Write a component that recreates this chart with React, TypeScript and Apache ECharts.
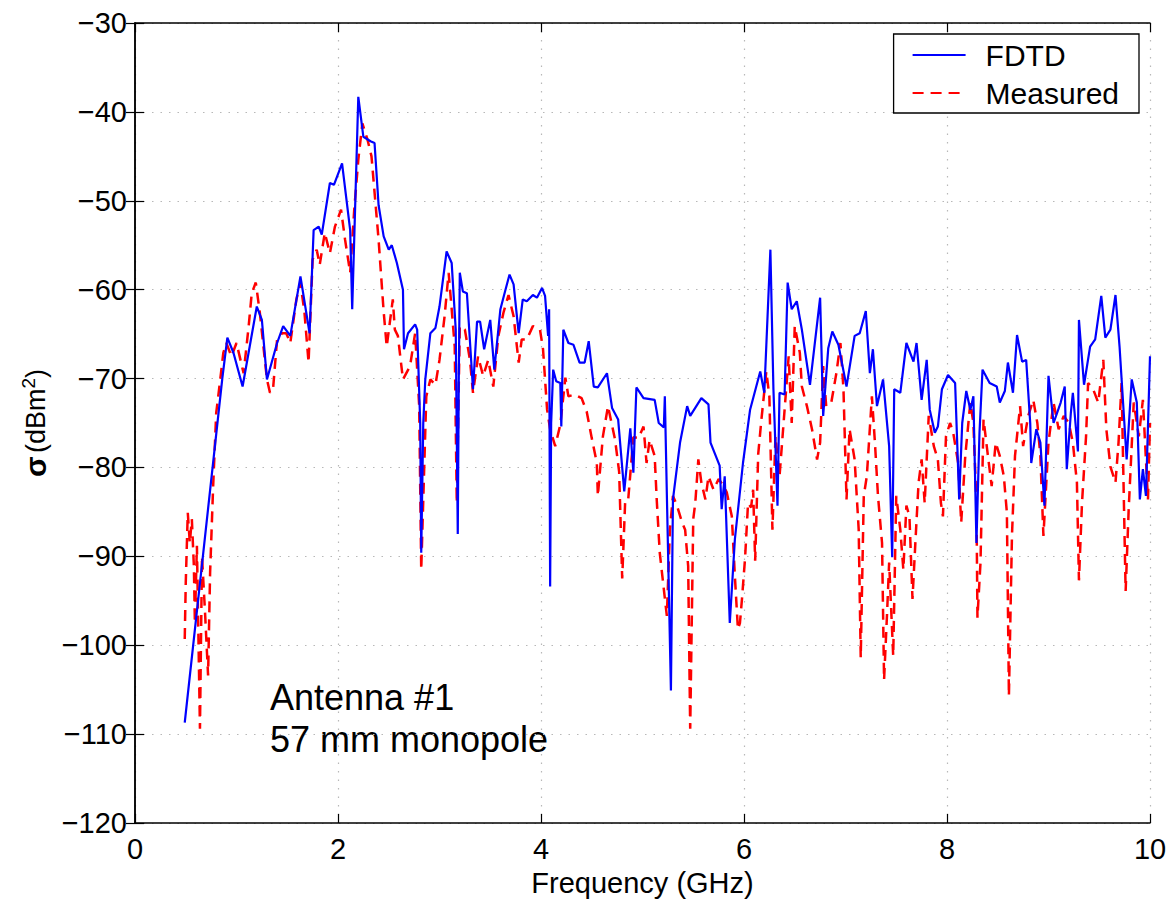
import React, { useEffect, useRef } from "react";
import * as echarts from "echarts";

// Frequency (GHz), sigma (dBm^2)
const fdtdPoints: [number, number][] = [
  [0.49, -108.7], [0.86, -70.0], [0.91, -65.4], [0.97, -67.1], [1.06, -70.9], [1.13, -66.4],
  [1.2, -61.9], [1.25, -63.4], [1.3, -70.1], [1.4, -66.0], [1.46, -64.1], [1.53, -65.2],
  [1.63, -58.5], [1.72, -64.9], [1.76, -53.3], [1.81, -52.9], [1.84, -53.8], [1.92, -48.0],
  [1.96, -48.2], [2.04, -45.8], [2.12, -53.3], [2.14, -62.2], [2.2, -38.3], [2.25, -42.8],
  [2.32, -43.3], [2.36, -43.5], [2.4, -50.5], [2.45, -54.0], [2.5, -55.5], [2.53, -55.0],
  [2.58, -57.0], [2.64, -60.0], [2.65, -66.7], [2.69, -64.9], [2.76, -63.9], [2.78, -64.5],
  [2.81, -75.0], [2.82, -89.6], [2.84, -75.0], [2.86, -70.1], [2.91, -64.9], [2.96, -64.3],
  [3.0, -61.9], [3.07, -55.7], [3.12, -57.0], [3.16, -64.5], [3.18, -87.5], [3.19, -70.0],
  [3.2, -58.1], [3.23, -60.2], [3.27, -60.4], [3.33, -71.2], [3.37, -63.6], [3.4, -63.6],
  [3.44, -66.7], [3.5, -63.4], [3.54, -69.0], [3.6, -62.2], [3.65, -60.0], [3.69, -58.3],
  [3.73, -59.4], [3.78, -64.9], [3.82, -61.1], [3.86, -61.3], [3.92, -60.6], [3.96, -60.9],
  [4.01, -59.8], [4.04, -60.7], [4.07, -65.2], [4.08, -62.2], [4.09, -93.4], [4.1, -75.0],
  [4.12, -69.0], [4.15, -70.3], [4.19, -70.5], [4.2, -75.4], [4.22, -64.5], [4.27, -66.0],
  [4.32, -66.2], [4.38, -68.2], [4.43, -68.2], [4.47, -65.8], [4.52, -70.9], [4.56, -71.0],
  [4.65, -69.4], [4.7, -73.3], [4.76, -74.6], [4.82, -82.7], [4.88, -75.6], [4.91, -80.6],
  [4.94, -71.0], [5.01, -72.2], [5.12, -72.4], [5.16, -75.0], [5.21, -75.5], [5.22, -72.0],
  [5.28, -105.1], [5.3, -83.6], [5.37, -77.2], [5.44, -73.1], [5.47, -74.2], [5.58, -72.2],
  [5.65, -72.9], [5.67, -77.2], [5.76, -79.8], [5.78, -84.7], [5.81, -81.0], [5.86, -97.5],
  [5.91, -88.1], [5.99, -79.5], [6.06, -73.5], [6.16, -69.2], [6.2, -71.6], [6.26, -55.5],
  [6.29, -71.2], [6.33, -84.3], [6.35, -71.6], [6.4, -71.8], [6.43, -59.2], [6.47, -62.2],
  [6.52, -61.3], [6.57, -64.5], [6.65, -70.7], [6.75, -60.9], [6.78, -74.2], [6.83, -66.6],
  [6.87, -64.7], [6.93, -66.2], [7.01, -70.9], [7.09, -65.2], [7.14, -64.9], [7.2, -62.4],
  [7.24, -69.4], [7.27, -66.7], [7.31, -73.1], [7.37, -70.1], [7.43, -77.6], [7.46, -90.1],
  [7.48, -71.2], [7.54, -71.6], [7.6, -66.0], [7.67, -68.1], [7.7, -66.0], [7.75, -72.4],
  [7.8, -67.9], [7.83, -73.5], [7.88, -76.1], [7.91, -75.4], [7.95, -71.2], [8.01, -69.6],
  [8.08, -70.5], [8.12, -83.6], [8.15, -75.0], [8.19, -71.4], [8.23, -73.5], [8.26, -72.0],
  [8.29, -88.5], [8.32, -76.1], [8.35, -69.0], [8.42, -70.5], [8.49, -70.9], [8.52, -72.7],
  [8.57, -71.4], [8.6, -68.2], [8.65, -71.6], [8.69, -65.1], [8.74, -68.1], [8.78, -67.9],
  [8.82, -75.0], [8.83, -79.5], [8.88, -75.7], [8.92, -77.2], [8.96, -84.3], [9.0, -69.7],
  [9.05, -75.0], [9.12, -72.7], [9.16, -70.9], [9.18, -80.2], [9.22, -73.9], [9.24, -71.6],
  [9.29, -78.2], [9.3, -63.4], [9.35, -70.7], [9.41, -66.4], [9.46, -65.6], [9.52, -60.7],
  [9.56, -65.4], [9.61, -64.5], [9.66, -60.6], [9.7, -66.4], [9.77, -79.1], [9.82, -70.1],
  [9.87, -72.7], [9.9, -83.6], [9.93, -80.2], [9.96, -83.2], [10.0, -67.5],
];

const measuredPoints: [number, number][] = [
  [0.49, -99.3], [0.5, -93.0], [0.52, -85.1], [0.54, -88.5], [0.56, -85.8], [0.58, -91.1],
  [0.59, -97.5], [0.61, -88.8], [0.64, -109.4], [0.66, -90.0], [0.69, -96.3], [0.72, -103.4],
  [0.74, -91.8], [0.77, -82.1], [0.8, -73.9], [0.84, -70.1], [0.87, -67.1], [0.9, -66.0],
  [0.95, -67.5], [1.0, -66.0], [1.07, -69.4], [1.12, -64.1], [1.15, -60.4], [1.19, -59.2],
  [1.23, -62.6], [1.3, -70.1], [1.33, -71.6], [1.36, -71.2], [1.4, -65.6], [1.45, -64.9],
  [1.49, -64.9], [1.53, -66.0], [1.59, -61.1], [1.63, -59.2], [1.67, -62.6], [1.71, -68.2],
  [1.75, -56.6], [1.79, -55.5], [1.82, -57.2], [1.87, -53.6], [1.92, -55.9], [1.97, -52.9],
  [2.03, -51.0], [2.07, -54.4], [2.12, -58.1], [2.16, -51.0], [2.2, -45.4], [2.24, -41.3],
  [2.29, -43.1], [2.33, -45.0], [2.4, -54.4], [2.45, -62.5], [2.48, -66.4], [2.54, -61.1],
  [2.56, -64.5], [2.59, -65.2], [2.64, -70.1], [2.71, -68.6], [2.76, -64.9], [2.8, -73.1],
  [2.82, -91.5], [2.87, -72.0], [2.91, -70.1], [2.96, -70.7], [3.0, -67.9], [3.05, -63.0],
  [3.09, -58.1], [3.12, -62.2], [3.15, -66.4], [3.17, -84.0], [3.2, -64.1], [3.25, -64.5],
  [3.3, -67.9], [3.33, -71.6], [3.38, -67.5], [3.43, -69.7], [3.48, -67.9], [3.53, -70.9],
  [3.58, -65.2], [3.63, -62.6], [3.68, -60.6], [3.73, -63.0], [3.78, -68.2], [3.81, -65.6],
  [3.86, -65.6], [3.92, -64.1], [3.99, -64.5], [4.02, -66.7], [4.06, -73.5], [4.09, -75.7],
  [4.14, -77.6], [4.19, -75.2], [4.24, -69.9], [4.27, -72.0], [4.33, -71.8], [4.4, -72.2],
  [4.45, -73.7], [4.5, -76.7], [4.55, -79.5], [4.56, -83.2], [4.61, -76.5], [4.66, -73.1],
  [4.73, -76.9], [4.77, -80.5], [4.8, -92.5], [4.83, -83.6], [4.86, -83.5], [4.91, -76.6],
  [4.96, -76.7], [5.01, -75.4], [5.04, -79.5], [5.07, -76.9], [5.12, -78.7], [5.14, -83.6],
  [5.17, -89.6], [5.21, -93.7], [5.24, -96.7], [5.27, -87.0], [5.3, -83.2], [5.34, -84.3],
  [5.39, -86.2], [5.42, -87.0], [5.45, -91.1], [5.47, -109.4], [5.5, -85.8], [5.52, -84.0],
  [5.55, -79.1], [5.58, -81.7], [5.62, -83.6], [5.65, -81.0], [5.7, -82.5], [5.75, -81.3],
  [5.8, -82.1], [5.83, -82.8], [5.88, -85.5], [5.91, -92.2], [5.94, -98.2], [5.96, -97.5],
  [5.98, -94.8], [6.01, -90.3], [6.04, -84.0], [6.07, -84.5], [6.09, -82.5], [6.11, -90.5],
  [6.14, -78.5], [6.17, -74.8], [6.22, -69.2], [6.25, -72.0], [6.28, -87.0], [6.31, -76.5],
  [6.35, -81.0], [6.39, -75.0], [6.44, -67.5], [6.47, -75.0], [6.5, -64.1], [6.55, -67.1],
  [6.57, -70.9], [6.62, -73.1], [6.67, -75.7], [6.72, -79.1], [6.75, -77.2], [6.78, -68.6],
  [6.81, -73.1], [6.86, -72.7], [6.91, -69.4], [6.95, -66.0], [6.98, -71.2], [7.01, -83.6],
  [7.04, -75.7], [7.09, -79.1], [7.13, -87.0], [7.15, -101.4], [7.18, -83.2], [7.21, -81.0],
  [7.26, -72.0], [7.29, -77.2], [7.32, -83.2], [7.36, -88.5], [7.38, -103.9], [7.41, -96.3],
  [7.43, -90.7], [7.47, -101.2], [7.5, -83.2], [7.54, -87.0], [7.57, -91.5], [7.6, -84.3],
  [7.63, -85.5], [7.66, -94.8], [7.69, -88.1], [7.72, -81.7], [7.75, -79.1], [7.78, -84.0],
  [7.82, -74.2], [7.87, -77.6], [7.91, -79.1], [7.94, -84.0], [7.96, -85.5], [7.99, -76.5],
  [8.03, -75.0], [8.06, -76.0], [8.11, -79.5], [8.14, -86.2], [8.18, -78.7], [8.23, -72.7],
  [8.26, -75.0], [8.29, -84.0], [8.3, -96.9], [8.33, -90.7], [8.36, -74.6], [8.4, -78.4],
  [8.44, -82.1], [8.48, -77.2], [8.52, -78.7], [8.56, -81.0], [8.59, -85.1], [8.61, -105.7],
  [8.64, -87.7], [8.67, -78.7], [8.72, -73.1], [8.75, -77.6], [8.8, -74.2], [8.85, -72.4],
  [8.89, -75.0], [8.92, -78.7], [8.95, -87.7], [9.0, -77.2], [9.05, -72.7], [9.1, -75.7],
  [9.15, -74.2], [9.2, -75.0], [9.24, -77.2], [9.28, -81.7], [9.3, -92.7], [9.33, -84.0],
  [9.37, -76.5], [9.39, -70.5], [9.44, -71.2], [9.49, -72.7], [9.54, -67.9], [9.57, -75.7],
  [9.61, -79.9], [9.66, -81.7], [9.69, -77.2], [9.72, -70.5], [9.76, -93.9], [9.79, -84.7],
  [9.84, -72.7], [9.89, -76.5], [9.93, -72.4], [9.98, -83.6], [10.0, -75.0],
];

const seriesNames = ["FDTD", "Measured"];
const xLabel = "Frequency (GHz)";
const annotationLines = ["Antenna #1", "57 mm monopole"];

const FONT = '"Liberation Sans", Arial, Helvetica, sans-serif';

const fmtNum = (v: number) => (v < 0 ? "\u2212" + Math.abs(v) : String(v));

export default function App() {
  const ref = useRef<HTMLDivElement>(null);

  useEffect(() => {
    if (!ref.current) return;
    const chart = echarts.init(ref.current, undefined, { renderer: "svg" });

    const axisLine = { show: true, lineStyle: { color: "#000", width: 1.5 } };
    const tick = { show: true, inside: true, length: 9, lineStyle: { color: "#000", width: 1.2 } };
    const grid = { show: true, lineStyle: { color: "#b8b8b8", width: 1.2, type: [1.5, 7] as any } };

    chart.setOption({
      animation: false,
      backgroundColor: "#fff",
      grid: { left: 135, right: 21, top: 23, bottom: 78, containLabel: false },
      legend: {
        data: seriesNames,
        orient: "vertical",
        right: 32,
        top: 34,
        itemWidth: 53,
        itemHeight: 14,
        itemGap: 8,
        padding: [6, 20, 5, 18],
        borderColor: "#000",
        borderWidth: 1.3,
        backgroundColor: "#fff",
        itemStyle: { opacity: 0, color: "rgba(0,0,0,0)", borderWidth: 0 },
        textStyle: { fontSize: 30, color: "#000", fontFamily: FONT, padding: [0, 0, 0, 15] },
      },
      xAxis: [
        {
          type: "value",
          min: 0,
          max: 10,
          interval: 2,
          position: "bottom",
          axisLine,
          axisTick: tick,
          splitLine: grid,
          axisLabel: { fontSize: 29, color: "#000", fontFamily: FONT, margin: 11, formatter: fmtNum },
          name: xLabel,
          nameLocation: "middle",
          nameGap: 45,
          nameTextStyle: { fontSize: 29, color: "#000", fontFamily: FONT },
        },
        {
          type: "value",
          min: 0,
          max: 10,
          interval: 2,
          position: "top",
          axisLine,
          axisTick: tick,
          splitLine: { show: false },
          axisLabel: { show: false },
        },
      ],
      yAxis: [
        {
          type: "value",
          min: -120,
          max: -30,
          interval: 10,
          position: "left",
          axisLine,
          axisTick: tick,
          splitLine: grid,
          axisLabel: { fontSize: 29, color: "#000", fontFamily: FONT, margin: 8, formatter: fmtNum },
          name: "{s|σ} {n|(dBm}{p|2}{n|)}",
          nameLocation: "middle",
          nameRotate: 90,
          nameGap: 82,
          nameTextStyle: {
            fontFamily: FONT,
            color: "#000",
            rich: {
              s: { fontSize: 30, fontFamily: FONT, color: "#000", fontWeight: "bold", lineHeight: 34 },
              n: { fontSize: 27, fontFamily: FONT, color: "#000", lineHeight: 34 },
              p: { fontSize: 19, fontFamily: FONT, color: "#000", verticalAlign: "top", lineHeight: 20 },
            },
          },
        },
        {
          type: "value",
          min: -120,
          max: -30,
          interval: 10,
          position: "right",
          axisLine,
          axisTick: tick,
          splitLine: { show: false },
          axisLabel: { show: false },
        },
      ],
      series: [
        {
          name: seriesNames[0],
          type: "line",
          data: fdtdPoints,
          showSymbol: false,
          symbol: "none",
          lineStyle: { color: "#0000ff", width: 2.2 },
          itemStyle: { color: "#0000ff" },
          z: 3,
        },
        {
          name: seriesNames[1],
          type: "line",
          data: measuredPoints,
          showSymbol: false,
          symbol: "none",
          lineStyle: { color: "#ff0000", width: 2.5, type: [11, 7] as any },
          itemStyle: { color: "#ff0000" },
          z: 2,
        },
      ],
      graphic: [
        {
          type: "text",
          left: 270,
          top: 679,
          style: { text: annotationLines[0], fontSize: 36, fontFamily: FONT, fill: "#000" },
        },
        {
          type: "text",
          left: 270,
          top: 721,
          style: { text: annotationLines[1], fontSize: 36, fontFamily: FONT, fill: "#000" },
        },
      ],
    });

    return () => chart.dispose();
  }, []);

  return (
    <div
      ref={ref}
      style={{ position: "absolute", left: 0, top: 0, width: 1171, height: 902, background: "#fff" }}
    />
  );
}
